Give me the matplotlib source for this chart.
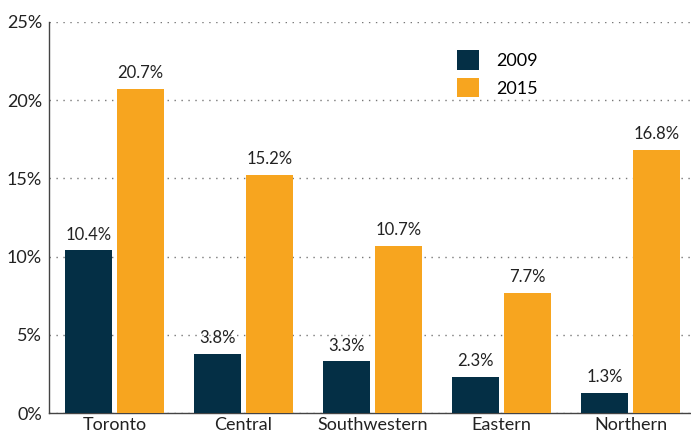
import numpy as np
import matplotlib.pyplot as plt

plt.rcParams['font.family'] = ['Lato', 'DejaVu Sans']

regions = ['Toronto', 'Central', 'Southwestern', 'Eastern', 'Northern']
y2009 = [10.4, 3.8, 3.3, 2.3, 1.3]
y2015 = [20.7, 15.2, 10.7, 7.7, 16.8]

dark = '#042f45'
orange = '#f7a51f'

fig = plt.figure(figsize=(6.91, 4.38), dpi=100)
ax = fig.add_axes([49 / 691, 25 / 438, 642 / 691, 391 / 438])

x = np.arange(len(regions))
w = 0.364
off = 0.2016
b1 = ax.bar(x - off, y2009, w, color=dark, label='2009', zorder=3)
b2 = ax.bar(x + off, y2015, w, color=orange, label='2015', zorder=3)

for bars, vals in ((b1, y2009), (b2, y2015)):
    for b, v in zip(bars, vals):
        ax.text(b.get_x() + b.get_width() / 2, v + 0.5, f'{v:.1f}%',
                ha='center', va='bottom', fontsize=12, color='#222222')

ax.set_xlim(-0.508, 4.469)
ax.set_ylim(0, 25)
ax.set_yticks([0, 5, 10, 15, 20, 25])
ax.set_yticklabels([f'{t}%' for t in [0, 5, 10, 15, 20, 25]])
ax.set_xticks(x)
ax.set_xticklabels(regions)
ax.tick_params(axis='both', length=0, labelsize=13, colors='#222222')
ax.tick_params(axis='y', pad=5)
ax.tick_params(axis='x', pad=3)
ax.yaxis.grid(True, linestyle=(0, (1, 4)), color='#777777', linewidth=1, zorder=0)

for s in ['top', 'right']:
    ax.spines[s].set_visible(False)
for s in ['left', 'bottom']:
    ax.spines[s].set_color('#444444')
    ax.spines[s].set_linewidth(1)

ax.legend(loc='upper left', bbox_to_anchor=(0.61, 0.97), frameon=False,
          fontsize=13, handlelength=1.2, handleheight=1.3, handletextpad=1.0,
          labelspacing=0.45)

fig.savefig('out.png', dpi=100)
